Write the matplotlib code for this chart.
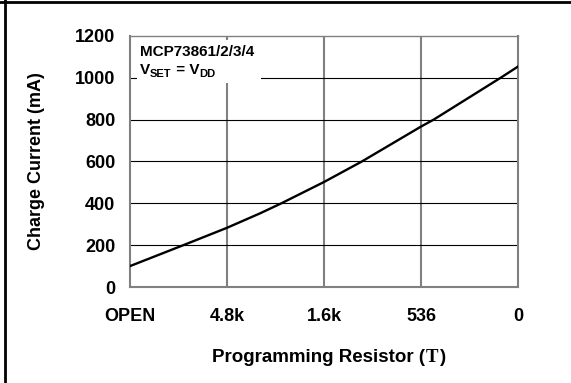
import matplotlib
matplotlib.use('Agg')
import matplotlib.pyplot as plt
from matplotlib.lines import Line2D
from matplotlib.patches import Rectangle

# 数据：编程电阻与充电电流
resistor_labels = ['OPEN', '4.8k', '1.6k', '536', '0']
curve_pos = [0, 0.55, 1, 1.34, 1.56, 2, 2.39, 3, 3.13, 3.82, 4]
curve_ma = [100, 200, 283, 352, 400, 502, 600, 767, 800, 1000, 1054]
y_ticks = [0, 200, 400, 600, 800, 1000, 1200]

plt.rcParams['font.family'] = ['Liberation Sans', 'DejaVu Sans']
plt.rcParams['font.weight'] = 'bold'

W, H = 571, 383
fig = plt.figure(figsize=(W / 100, H / 100), dpi=100)
ax = fig.add_axes([130 / W, 1 - 287 / H, 388 / W, 251 / H])

ax.set_xlim(0, 4)
ax.set_ylim(0, 1200)

# 网格：竖线灰粗，横线黑细
for i in range(1, 4):
    ax.axvline(i, color='#808080', lw=1.5, zorder=1)
for v in y_ticks[1:-1]:
    ax.axhline(v, color='black', lw=0.8, zorder=1)

ax.plot(curve_pos, curve_ma, color='black', lw=1.7, zorder=3)

for s in ax.spines.values():
    s.set_color('#808080')
    s.set_linewidth(1.5)
ax.spines['top'].set_linewidth(1.0)

ax.set_xticks(range(len(resistor_labels)))
ax.set_xticklabels(resistor_labels)
ax.set_yticks(y_ticks)
ax.tick_params(length=0, labelsize=13)
ax.tick_params(axis='x', pad=15)
ax.tick_params(axis='y', pad=10.5)

ax.set_ylabel('Charge Current (mA)', fontsize=13, fontweight='bold')
ax.yaxis.set_label_coords((45 - 130) / 388, 0.5)

fig.canvas.draw()
r = fig.canvas.get_renderer()


def run_text(x0, y0, parts, **kw):
    # 逐段拼接文字：(文本, 字体, 字号, 纵向偏移px, 间距px)
    for s, fam, size, dy, gap in parts:
        t = fig.text(x0 / W, 1 - (y0 + dy) / H, s, ha='left', va='baseline',
                     fontsize=size, fontweight='bold', family=fam, **kw)
        x0 += t.get_window_extent(r).width + gap


# 横轴标题（括号内符号用衬线字体）
run_text(212, 362, [('Programming Resistor (', 'Liberation Sans', 13.5, 0, 1),
                    ('T', 'Liberation Serif', 13.5, 0, 1),
                    (')', 'Liberation Sans', 13.5, 0, 0)])

# 白底说明框
ax.add_patch(Rectangle((137 / W, 1 - 83 / H), 124 / W, 43 / H,
                       transform=fig.transFigure, facecolor='white',
                       edgecolor='none', zorder=5))
run_text(140, 56, [('MCP73861/2/3/4', 'Liberation Sans', 11, 0, 0)], zorder=6)
run_text(140, 74.5, [('V', 'Liberation Sans', 11, 0, 0),
                     ('SET', 'Liberation Sans', 8, 2.5, 0),
                     (' = V', 'Liberation Sans', 11, 0, 0),
                     ('DD', 'Liberation Sans', 8, 2.5, 0)], zorder=6)

# 外框（左、上）
fig.add_artist(Line2D([4.5 / W, 4.5 / W], [0, 1], color='black', lw=2, transform=fig.transFigure))
fig.add_artist(Line2D([0, 1], [1 - 1.5 / H, 1 - 1.5 / H], color='black', lw=2, transform=fig.transFigure))

fig.savefig('out.png', dpi=100)
